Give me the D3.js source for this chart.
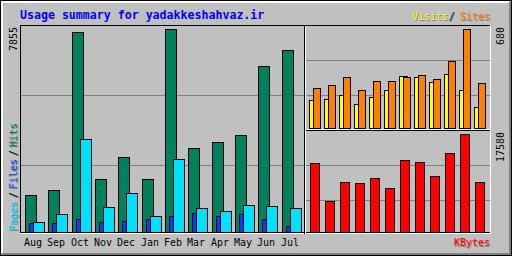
<!DOCTYPE html>
<html>
<head>
<meta charset="utf-8">
<script src="https://cdn.jsdelivr.net/npm/d3@7"></script>
<style>
  html, body { margin: 0; padding: 0; background: #fff; }
  svg { display: block; }
  text { font-family: "DejaVu Sans Mono", monospace; }
</style>
</head>
<body>
<div id="chart"></div>
<script>
var months = ["Aug", "Sep", "Oct", "Nov", "Dec", "Jan", "Feb", "Mar", "Apr", "May", "Jun", "Jul"];
var hits = [1420, 1614, 7727, 2039, 2890, 2039, 7855, 3239, 3471, 3742, 6412, 7031];
var files = [348, 348, 503, 375, 414, 491, 608, 723, 608, 685, 491, 221];
var pages = [375, 685, 3587, 956, 1498, 608, 2813, 917, 801, 1033, 995, 917];
var visits = [194, 201, 229, 167, 215, 264, 354, 347, 319, 368, 264, 146];
var sites = [278, 298, 347, 264, 326, 326, 347, 361, 340, 458, 680, 312];
var kbytes = [12378, 5561, 8969, 8790, 9687, 7893, 12916, 12557, 10046, 14172, 17580, 8969];

var chart = (function() {
    "use strict";
    var module = {};

    var W = 512, H = 256;
    var black = "#000", white = "#fff", dkgrey = "#808080";

    var svg = d3.select("#chart")
        .append("svg")
        .attr("width", W)
        .attr("height", H)
        .attr("shape-rendering", "crispEdges");

    function line(x1, y1, x2, y2, color) {
        // pixel-exact gd style lines
        if (y1 === y2) {
            svg.append("rect").attr("x", x1).attr("y", y1)
                .attr("width", x2 - x1 + 1).attr("height", 1).attr("fill", color);
        } else {
            svg.append("rect").attr("x", x1).attr("y", y1)
                .attr("width", 1).attr("height", y2 - y1 + 1).attr("fill", color);
        }
    }

    function bars(data, xs, dx1, dx2, y, color) {
        svg.append("g")
            .selectAll("rect")
            .data(data)
            .enter()
            .append("rect")
            .attr("x", function(d, i) { return Math.round(xs(i)) + dx1 + 0.5; })
            .attr("y", function(d) { return Math.round(y(d)) + 0.5; })
            .attr("width", dx2 - dx1)
            .attr("height", function(d) { return y.range()[0] - Math.round(y(d)); })
            .attr("fill", color)
            .attr("stroke", black)
            .attr("stroke-width", 1);
    }

    function label(x, y, txt, color, shadow, opts) {
        opts = opts || {};
        var parts = shadow ? [[1, dkgrey], [0, color]] : [[0, color]];
        parts.forEach(function(p) {
            var t = svg.append("text")
                .attr("x", x + p[0])
                .attr("y", y + p[0])
                .attr("fill", p[1])
                .style("font-size", (opts.size || 10) + "px")
                .style("font-weight", opts.bold ? "bold" : "normal")
                .attr("text-anchor", opts.anchor || "start")
                .text(txt);
            if (opts.rotate) {
                t.attr("transform", "rotate(-90," + (x + p[0]) + "," + (y + p[0]) + ")");
            }
        });
    }

    module.draw = function() {
        // background and 3D border
        svg.append("rect").attr("width", W).attr("height", H).attr("fill", "#c0c0c0");
        svg.append("rect").attr("x", 0.5).attr("y", 0.5).attr("width", W - 1).attr("height", H - 1)
            .attr("fill", "none").attr("stroke", black);
        line(1, 1, W - 2, 1, white);
        line(1, 2, W - 3, 2, white);
        line(1, 1, 1, H - 2, white);
        line(2, 1, 2, H - 3, white);
        line(W - 2, 1, W - 2, H - 2, dkgrey);
        line(W - 3, 2, W - 3, H - 2, dkgrey);
        line(1, H - 2, W - 2, H - 2, dkgrey);
        line(2, H - 3, W - 2, H - 3, dkgrey);

        // title
        label(20, 19, "Usage summary for yadakkeshahvaz.ir", "#0000ff", false, { size: 11.6, bold: true });

        // grid lines
        [95, 165].forEach(function(y) { line(21, y, 303, y, dkgrey); });
        [60, 95].forEach(function(y) { line(306, y, 489, y, dkgrey); });
        [165, 200].forEach(function(y) { line(306, y, 489, y, dkgrey); });

        // main panel: hits / files / pages
        var xMain = d3.scaleLinear().domain([0, 12]).range([25, 305]);
        var yMain = d3.scaleLinear().domain([0, d3.max(hits)]).range([232, 29]);
        bars(hits, xMain, 0, 11, yMain, "#00805c");
        bars(files, xMain, 4, 8, yMain, "#0040ff");
        bars(pages, xMain, 8, 19, yMain, "#00e0ff");

        // right top: visits / sites
        var xSide = d3.scaleLinear().domain([0, 12]).range([309, 489]);
        var ySite = d3.scaleLinear().domain([0, Math.max(d3.max(visits), d3.max(sites))]).range([128, 29]);
        bars(visits, xSide, 0, 8, ySite, "#ffff00");
        bars(sites, xSide, 4, 11, ySite, "#ff8000");

        // right bottom: kbytes
        var yKb = d3.scaleLinear().domain([0, d3.max(kbytes)]).range([232, 134]);
        bars(kbytes, xSide, 1, 10, yKb, "#ff0000");

        // frames
        line(20, 25, 489, 25, black);
        line(20, 25, 20, 233, black);
        line(21, 232, 303, 232, black);
        line(306, 232, 489, 232, black);
        line(20, 233, 490, 233, white);
        line(490, 25, 490, 233, white);
        line(304, 25, 304, 233, black);
        line(305, 26, 305, 233, white);
        line(306, 129, 489, 129, white);
        line(306, 130, 489, 130, black);

        // month labels
        months.forEach(function(m, i) {
            label(Math.round(xMain(i)) + 8, 246, m, black, false, { anchor: "middle" });
        });

        // max values
        label(17, 27, String(d3.max(hits)), black, false, { rotate: true, anchor: "end" });
        label(504, 27, String(ySite.domain()[1]), black, false, { rotate: true, anchor: "end" });
        label(504, 132, String(d3.max(kbytes)), black, false, { rotate: true, anchor: "end" });

        // legends
        label(17, 231, "Pages", "#00e0ff", true, { rotate: true });
        label(17, 198, "/", black, true, { rotate: true });
        label(17, 189, "Files", "#0040ff", true, { rotate: true });
        label(17, 156, "/", black, true, { rotate: true });
        label(17, 147, "Hits", "#00805c", true, { rotate: true });

        label(412, 20, "Visits", "#ffff00", true);
        label(449, 20, "/", black, true);
        label(460, 20, "Sites", "#ff8000", true);
        label(454, 246, "KBytes", "#ff0000", true);
    };

    return module;
})();

chart.draw();
</script>
</body>
</html>
